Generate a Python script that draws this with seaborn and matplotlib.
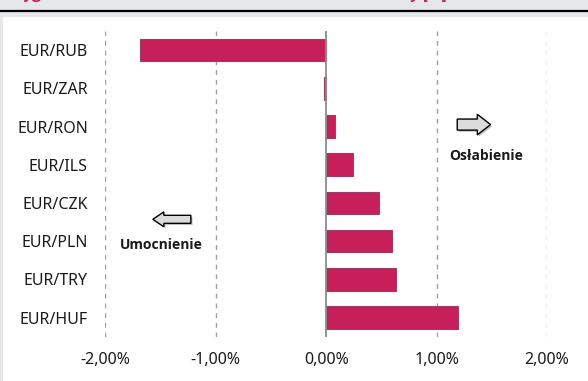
import matplotlib
matplotlib.use("Agg")
import matplotlib.pyplot as plt
import seaborn as sns
import pandas as pd
from matplotlib.ticker import FuncFormatter, FixedLocator
from matplotlib.patches import FancyArrow, Rectangle
from matplotlib.lines import Line2D
import matplotlib.patheffects as pe

categories = ["EUR/RUB", "EUR/ZAR", "EUR/RON", "EUR/ILS", "EUR/CZK", "EUR/PLN", "EUR/TRY", "EUR/HUF"]
values = [-1.69, -0.02, 0.08, 0.24, 0.48, 0.60, 0.63, 1.19]
x_ticks = [-2, -1, 0, 1, 2]
title = "Tygodniowa zmiana kursów walut wobec EUR – kursy [%]"

sns.set_theme(style="white")
plt.rcParams["font.family"] = ["Noto Sans", "DejaVu Sans"]
bold_family = ["Open Sans", "DejaVu Sans"]

df = pd.DataFrame({"pair": categories, "change": values})

fig = plt.figure(figsize=(5.88, 3.81), dpi=100)
fig.patch.set_facecolor("#e6e7e8")
W, H = 588, 381
# white panel
fig.patches.append(Rectangle((3 / W, 0), 1, 1 - 17 / H, transform=fig.transFigure,
                             facecolor="white", edgecolor="none", zorder=-5))
fig.lines.append(Line2D([0, 1], [1 - 10.5 / H, 1 - 10.5 / H], transform=fig.transFigure,
                        color="black", lw=1.6, zorder=-4))
fig.text(15 / W, 1 + 0.8 / H, title, color="#c8205a", fontsize=11, fontweight="bold",
         family=bold_family, ha="left", va="baseline")

ax = fig.add_axes([105.3 / W, 1 - 336.6 / H, (547 - 105.3) / W, (336.6 - 31) / H])
ax.set_facecolor("none")
ax.set_zorder(2)

sns.barplot(data=df, x="change", y="pair", order=categories, orient="h",
            color="#c71f5a", saturation=1, width=0.59,
            edgecolor="#9c3c68", linewidth=0.8, ax=ax, zorder=3)

ax.set_xlim(-2, 2)
ax.set_ylim(7.5, -0.5)
ax.xaxis.set_major_locator(FixedLocator(x_ticks))
ax.xaxis.set_major_formatter(FuncFormatter(lambda v, p: f"{v:.2f}%".replace(".", ",")))
for x in x_ticks:
    if x == 0:
        ax.axvline(x, color="#8c8c8c", lw=1.3, zorder=4)
    else:
        ax.axvline(x, color="#a0a0a0", lw=1.0, ls=(0, (3.5, 3.5)), zorder=1)
for s in ax.spines.values():
    s.set_visible(False)
ax.tick_params(axis="both", length=0, labelsize=11.5, colors="#1a1a1a")
ax.tick_params(axis="y", pad=12.5)
ax.tick_params(axis="x", pad=11)
ax.set_xlabel("")
ax.set_ylabel("")

# arrows
shadow = [pe.SimplePatchShadow(offset=(1.2, -1.2), shadow_rgbFace="#9a9a9a", alpha=0.6), pe.Normal()]
ax.add_patch(FancyArrow(1.187, 1.95, 0.302, 0, width=0.29, head_width=0.54, head_length=0.12,
                        length_includes_head=True, facecolor="#dcdcdc", edgecolor="black",
                        lw=1.0, zorder=5, path_effects=shadow))
ax.add_patch(FancyArrow(-1.225, 4.43, -0.345, 0, width=0.21, head_width=0.39, head_length=0.10,
                        length_includes_head=True, facecolor="#dcdcdc", edgecolor="black",
                        lw=1.0, zorder=5, path_effects=shadow))
ax.text(1.447, 2.76, "Osłabienie", ha="center", va="center", fontsize=10, fontweight="bold",
        family=bold_family, color="#1a1a1a", zorder=5)
ax.text(-1.497, 5.11, "Umocnienie", ha="center", va="center", fontsize=10, fontweight="bold",
        family=bold_family, color="#1a1a1a", zorder=5)

fig.savefig("out.png", dpi=100, facecolor=fig.get_facecolor())
